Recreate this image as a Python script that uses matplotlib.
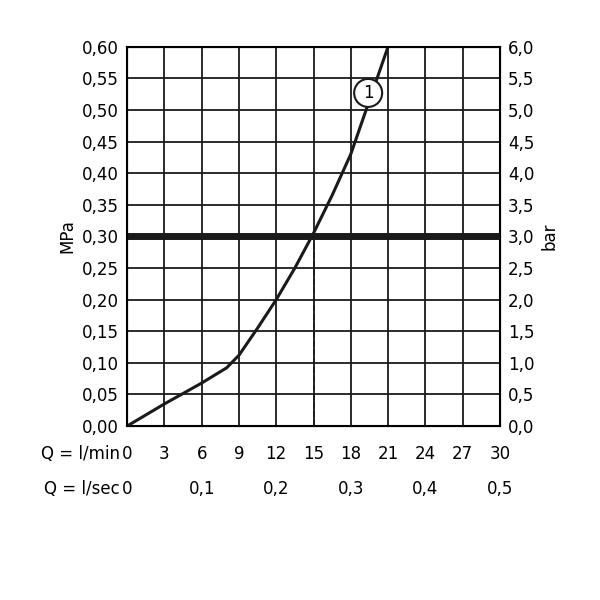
import matplotlib.pyplot as plt
import numpy as np

# curve (Q in l/min, p in MPa)
q_lmin = [0, 3, 6, 8, 9, 10.5, 12, 13.5, 15, 16.5, 18, 19.5, 21]
p_mpa = [0, 0.035, 0.068, 0.092, 0.112, 0.155, 0.2, 0.25, 0.305, 0.365, 0.43, 0.515, 0.6]

x_ticks = list(range(0, 31, 3))
y_ticks = np.round(np.arange(0, 0.601, 0.05), 2)
sec_labels = ["0", "0,1", "0,2", "0,3", "0,4", "0,5"]
sec_pos = [0, 6, 12, 18, 24, 30]
work_p = 0.30
work_q = 15

fig = plt.figure(figsize=(6, 6), dpi=100)
ax = fig.add_axes([0.212, 0.29, 0.621, 0.632])
ax.set_xlim(0, 30)
ax.set_ylim(0, 0.6)
ax.set_xticks(x_ticks)
ax.set_yticks(y_ticks)
ax.grid(True, color='#1a1a1a', linewidth=1.3)
for s in ax.spines.values():
    s.set_linewidth(1.5)
ax.tick_params(length=0, labelsize=12, pad=6)
ax.set_xticklabels([])
ax.set_yticklabels([f"{v:.2f}".replace('.', ',') for v in y_ticks])

ax2 = ax.twinx()
ax2.set_ylim(0, 6)
ax2.set_yticks(np.arange(0, 6.01, 0.5))
ax2.set_yticklabels([f"{v:.1f}".replace('.', ',') for v in np.arange(0, 6.01, 0.5)])
ax2.tick_params(length=0, labelsize=12, pad=6)

ax.plot(q_lmin, p_mpa, color='#1a1a1a', linewidth=2.2, zorder=3)
ax.axhline(work_p, color='#1a1a1a', linewidth=5, zorder=4)
ax.plot([work_q, work_q], [0, work_p], color='#1a1a1a', linestyle='--', linewidth=1.2, zorder=4)

ax.text(19.4, 0.527, "1", fontsize=12, ha='center', va='center', zorder=5,
        bbox=dict(boxstyle='circle,pad=0.3', fc='white', ec='#1a1a1a', lw=1.5))

ax.set_ylabel("MPa", fontsize=12, labelpad=4)
ax2.set_ylabel("bar", fontsize=12, labelpad=4)

for xv in x_ticks:
    ax.text(xv, -0.045, str(xv), ha='center', va='center', fontsize=12, transform=ax.transData, clip_on=False)
for xv, lab in zip(sec_pos, sec_labels):
    ax.text(xv, -0.1, lab, ha='center', va='center', fontsize=12, clip_on=False)
ax.text(-0.6, -0.045, "Q = l/min", ha='right', va='center', fontsize=12, clip_on=False)
ax.text(-0.6, -0.1, "Q = l/sec", ha='right', va='center', fontsize=12, clip_on=False)

fig.savefig("out.png")
